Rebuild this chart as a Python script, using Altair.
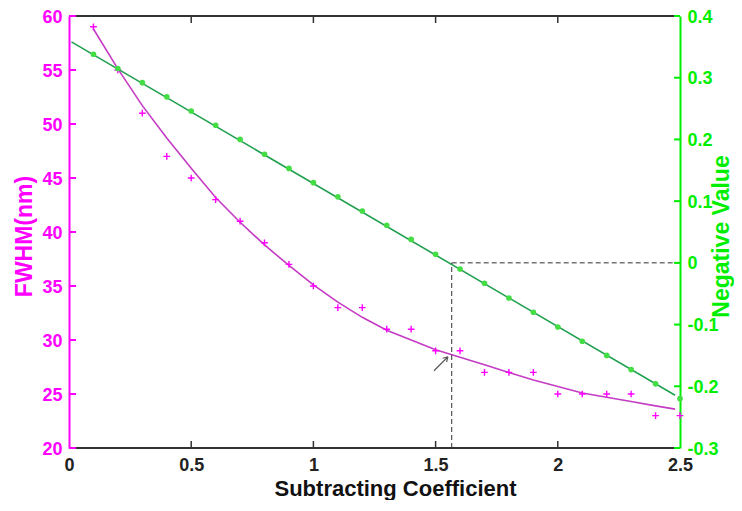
import altair as alt
import pandas as pd

# ---- data ----
coef = [0.1, 0.2, 0.3, 0.4, 0.5, 0.6, 0.7, 0.8, 0.9, 1.0, 1.1, 1.2, 1.3,
        1.4, 1.5, 1.6, 1.7, 1.8, 1.9, 2.0, 2.1, 2.2, 2.3, 2.4, 2.5]
fwhm = [59, 55, 51, 47, 45, 43, 41, 39, 37, 35, 33, 33, 31,
        31, 29, 29, 27, 27, 27, 25, 25, 25, 25, 23, 23]
neg = [0.338, 0.315, 0.292, 0.269, 0.246, 0.223, 0.200, 0.176, 0.153, 0.130,
       0.107, 0.084, 0.061, 0.038, 0.014, -0.010, -0.033, -0.057, -0.080,
       -0.104, -0.127, -0.150, -0.173, -0.196, -0.220]
fit_x = [0.1, 0.2, 0.3, 0.4, 0.5, 0.6, 0.7, 0.8, 0.9, 1.0, 1.1, 1.2, 1.3,
         1.4, 1.5, 1.6, 1.7, 1.8, 1.9, 2.0, 2.1, 2.2, 2.3, 2.4, 2.48]
fwhm_fit = [58.8, 55.1, 51.7, 48.7, 45.9, 43.2, 40.9, 38.8, 36.9, 35.1, 33.5,
            32.1, 30.9, 30.0, 29.1, 28.4, 27.7, 27.0, 26.3, 25.7, 25.1, 24.7,
            24.3, 23.9, 23.6]
neg_line_x = [0.01, 2.48]
neg_line_y = [0.358, -0.2145]
cross_x = 1.566
arrow_x = [1.522]
arrow_y = [27.8]
x_ticks = [0, 0.5, 1, 1.5, 2, 2.5]
left_ticks = [20, 25, 30, 35, 40, 45, 50, 55, 60]
right_ticks = [-0.3, -0.2, -0.1, 0, 0.1, 0.2, 0.3, 0.4]

# ---- styling ----
W, H = 611, 432
MAG = "#FF00FF"
GRN = "#00EE00"
FONT = "Liberation Sans"

xs = alt.Scale(domain=[0, 2.5], nice=False, zero=False)
yl = alt.Scale(domain=[20, 60], nice=False, zero=False)
yr = alt.Scale(domain=[-0.3, 0.4], nice=False, zero=False)

x_axis = alt.Axis(values=x_ticks, title="Subtracting Coefficient", domain=False,
                  ticks=False, grid=False, labelExpr="toString(datum.value)",
                  labelFlush=False,
                  labelFont=FONT, labelFontSize=18, labelFontWeight="bold",
                  labelColor="#222222", labelPadding=8,
                  titleFont=FONT, titleFontSize=22, titleFontWeight="bold",
                  titleColor="#111111", titleX=326, titleY=47,
                  titleAlign="center", titleBaseline="alphabetic")
left_axis = alt.Axis(values=left_ticks, orient="left", title="FWHM(nm)",
                     ticks=False, grid=False, domainColor=MAG, domainWidth=2,
                     labelExpr="toString(datum.value)", labelFlush=False,
                     labelFont=FONT, labelFontSize=18, labelFontWeight="bold",
                     labelColor=MAG, labelPadding=7, labelOffset=1,
                     titleFont=FONT, titleFontSize=23, titleFontWeight="bold",
                     titleColor=MAG, titleAngle=270, titleX=-45, titleY=220,
                     titleAlign="center", titleBaseline="middle")
right_axis = alt.Axis(values=right_ticks, orient="right", title="Negative Value",
                      ticks=False, grid=False, domainColor=GRN, domainWidth=2,
                      labelExpr="toString(datum.value)", labelFlush=False,
                      labelFont=FONT, labelFontSize=18, labelFontWeight="bold",
                      labelColor=GRN, labelPadding=7, labelOffset=1,
                      titleFont=FONT, titleFontSize=23, titleFontWeight="bold",
                      titleColor=GRN, titleAngle=270, titleX=48, titleY=220,
                      titleAlign="center", titleBaseline="alphabetic")

df = pd.DataFrame({"coef": coef, "fwhm": fwhm, "neg": neg})
df_fit = pd.DataFrame({"fx": fit_x, "fy": fwhm_fit})
df_nl = pd.DataFrame({"lx": neg_line_x, "ly": neg_line_y})
df_arrow = pd.DataFrame({"ax": arrow_x, "ay": arrow_y})
df_xt = pd.DataFrame({"v": x_ticks[1:-1]})
df_lt = pd.DataFrame({"v": left_ticks})
df_rt = pd.DataFrame({"v": right_ticks})
df_one = pd.DataFrame({"k": [0]})
df_dv = pd.DataFrame({"x": [cross_x], "y": [-0.3], "y2": [0.0]})
df_dh = pd.DataFrame({"x": [cross_x], "x2": [2.5], "y": [0.0]})

X = lambda f: alt.X(f, type="quantitative", scale=xs, axis=x_axis)
YL = lambda f: alt.Y(f, type="quantitative", scale=yl, axis=left_axis)
YR = lambda f: alt.Y(f, type="quantitative", scale=yr, axis=right_axis)

plus_path = "M-1,0L1,0M0,-1L0,1"
arrow_path = "M-1,1L1,-1M1,-1L0.25,-0.8M1,-1L0.8,-0.25"

fit_line = alt.Chart(df_fit).mark_line(color="#C43BC4", strokeWidth=1.6).encode(
    x=X("fx"), y=YL("fy"))
mag_pts = alt.Chart(df).mark_point(shape=plus_path, filled=False, color=MAG,
                                   strokeWidth=1.4, size=45, opacity=1).encode(
    x=X("coef"), y=YL("fwhm"))
arrow = alt.Chart(df_arrow).mark_point(shape=arrow_path, filled=False,
                                       color="#555555", strokeWidth=1.1,
                                       size=196, opacity=1).encode(
    x=X("ax"), y=YL("ay"))
lt = alt.Chart(df_lt).mark_rule(color=MAG, strokeWidth=2).encode(
    y=YL("v"), x=alt.value(0), x2=alt.value(7))
bt = alt.Chart(df_xt).mark_rule(color="#333333", strokeWidth=1.5).encode(
    x=X("v"), y=alt.value(H), y2=alt.value(H - 7))
tt = alt.Chart(df_xt).mark_rule(color="#333333", strokeWidth=1.5).encode(
    x=X("v"), y=alt.value(0), y2=alt.value(7))
top_border = alt.Chart(df_one).mark_rule(color="#333333", strokeWidth=2).encode(
    x=alt.value(7), x2=alt.value(W - 5), y=alt.value(0))
bottom_border = alt.Chart(df_one).mark_rule(color="#333333", strokeWidth=2).encode(
    x=alt.value(7), x2=alt.value(W - 5), y=alt.value(H))

left = alt.layer(fit_line, mag_pts, arrow, lt, bt, tt, top_border, bottom_border)

green_line = alt.Chart(df_nl).mark_line(color="#22A050", strokeWidth=1.6).encode(
    x=X("lx"), y=YR("ly"))
green_pts = alt.Chart(df).mark_point(shape="circle", filled=True, color="#44DD44",
                                     size=32, opacity=1).encode(
    x=X("coef"), y=YR("neg"))
dash_v = alt.Chart(df_dv).mark_rule(color="#333333", strokeWidth=1,
                                    strokeDash=[5, 3]).encode(
    x=X("x"), y=YR("y"), y2="y2:Q")
dash_h = alt.Chart(df_dh).mark_rule(color="#333333", strokeWidth=1,
                                    strokeDash=[5, 3]).encode(
    x=X("x"), x2="x2:Q", y=YR("y"))
rt = alt.Chart(df_rt).mark_rule(color=GRN, strokeWidth=2).encode(
    y=YR("v"), x=alt.value(W - 6), x2=alt.value(W))

right = alt.layer(green_line, green_pts, dash_v, dash_h, rt)

chart = alt.layer(left, right).resolve_scale(y="independent").properties(
    width=W, height=H,
    autosize=alt.AutoSizeParams(type="none"),
    padding={"left": 61, "top": 8, "right": 54, "bottom": 52},
).configure_view(stroke=None)

chart.save("out.html", embed_options={"renderer": "svg", "actions": False})
